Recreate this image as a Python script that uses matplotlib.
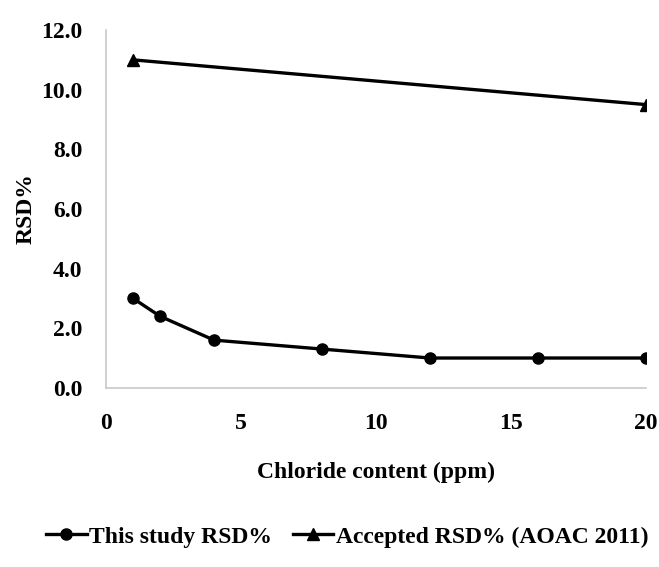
import numpy as np
import matplotlib.pyplot as plt

plt.rcParams['font.family'] = ['Liberation Serif', 'DejaVu Serif']
plt.rcParams['font.weight'] = 'bold'

# chloride content (ppm) and RSD values
x_study = [1, 2, 4, 8, 12, 16, 20]
rsd_study = [3.0, 2.4, 1.6, 1.3, 1.0, 1.0, 1.0]
x_aoac = [1, 20]
rsd_aoac = [11.0, 9.5]

fig = plt.figure(figsize=(6.59, 5.67), dpi=100)
ax = fig.add_axes([0.161, 0.316, 0.819, 0.631])

ax.plot(x_study, rsd_study, '-o', color='black', lw=2.4, ms=8, label='This study RSD%')
ax.plot(x_aoac, rsd_aoac, '-^', color='black', lw=2.4, ms=8, label='Accepted RSD% (AOAC 2011)')

ax.set_xlim(0, 20)
ax.set_ylim(0, 12)
ax.set_xticks([0, 5, 10, 15, 20])
ax.set_yticks(np.arange(0, 12.1, 2))
ax.set_yticklabels([f'{v:.1f}' for v in np.arange(0, 12.1, 2)])
ax.tick_params(axis='x', length=0, labelsize=17, pad=18)
ax.tick_params(axis='y', length=0, labelsize=17, pad=17)
for lab in ax.get_xticklabels() + ax.get_yticklabels():
    lab.set_fontweight('bold')

for s in ['top', 'right']:
    ax.spines[s].set_visible(False)
for s in ['left', 'bottom']:
    ax.spines[s].set_color('#c8c8c8')
    ax.spines[s].set_linewidth(1.2)

ax.set_xlabel('Chloride content (ppm)', fontsize=17, fontweight='bold', labelpad=20)
ax.set_ylabel('RSD%', fontsize=17, fontweight='bold', labelpad=3)

fig.legend(loc='center', bbox_to_anchor=(0.527, 0.053), ncol=2, frameon=False,
           handlelength=1.7, handletextpad=0.1, columnspacing=0.9,
           prop={'weight': 'bold', 'size': 17})

fig.savefig('out.png', dpi=100)
